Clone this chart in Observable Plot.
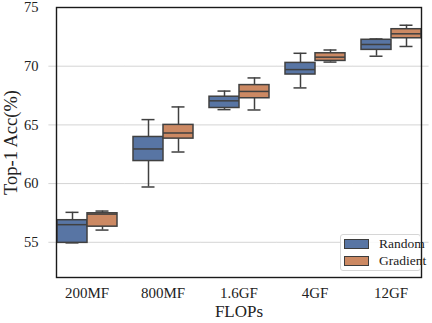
<!DOCTYPE html>
<html>
<head>
<meta charset="utf-8">
<script src="https://cdn.jsdelivr.net/npm/d3@7"></script>
<script src="https://cdn.jsdelivr.net/npm/@observablehq/plot@0.6"></script>
<style>
  html, body { margin: 0; padding: 0; background: #fff; }
  #wrap { position: relative; width: 432px; height: 323px; }
  #legend {
    position: absolute; left: 340px; top: 234px; width: 81px; height: 37px;
    background: rgba(255,255,255,0.85); border: 1px solid #d6d6d6; border-radius: 3px;
    box-sizing: border-box; font-family: "Liberation Serif", serif; font-size: 13.5px; color: #222;
  }
  .item { position: absolute; left: 3px; height: 12px; display: flex; align-items: center; }
  .sw { width: 23px; height: 8px; border: 1px solid #3d3d3d; margin-right: 10px; }
</style>
</head>
<body>
<div id="wrap"></div>
<script>
const categories = ["200MF", "800MF", "1.6GF", "4GF", "12GF"];
const series = ["Random", "Gradient"];
const colors = ["#5875a4", "#cc8963"];

const randomMin    = [54.95, 59.71, 66.30, 68.15, 70.85];
const randomQ1     = [54.95, 61.92, 66.44, 69.29, 71.39];
const randomMedian = [56.50, 62.95, 67.05, 69.71, 71.85];
const randomQ3     = [56.88, 63.97, 67.40, 70.28, 72.25];
const randomMax    = [57.55, 65.45, 67.88, 71.10, 72.32];

const gradientMin    = [56.04, 62.69, 66.27, 70.35, 71.68];
const gradientQ1     = [56.33, 63.83, 67.27, 70.45, 72.38];
const gradientMedian = [57.40, 64.31, 67.85, 70.77, 72.76];
const gradientQ3     = [57.47, 65.00, 68.39, 71.10, 73.15];
const gradientMax    = [57.66, 66.53, 69.00, 71.38, 73.49];

const yTicks = [55, 60, 65, 70, 75];
const gridValues = [55, 60, 65, 70];

const rows = categories.flatMap((c, i) => [
  {category: c, series: "Random", min: randomMin[i], q1: randomQ1[i], median: randomMedian[i], q3: randomQ3[i], max: randomMax[i]},
  {category: c, series: "Gradient", min: gradientMin[i], q1: gradientQ1[i], median: gradientMedian[i], q3: gradientQ3[i], max: gradientMax[i]}
]);

const edge = "#404040";
const gap = 7.62; // half of the space between facets

const chart = Plot.plot({
  width: 432, height: 323,
  marginTop: 7, marginRight: 3, marginBottom: 46, marginLeft: 48,
  style: {fontFamily: "Liberation Serif, serif", fontSize: "14px", color: "#222", background: "white"},
  fx: {domain: categories, paddingInner: 0.2, paddingOuter: 0.1, label: null, axis: null},
  x: {domain: series, padding: 0, axis: null},
  y: {domain: [52, 75]},
  color: {domain: series, range: colors},
  marks: [
    Plot.ruleY(gridValues, {stroke: "#d4d4d4", strokeWidth: 1, insetLeft: -gap, insetRight: -gap}),
    Plot.axisFx({domain: categories, anchor: "bottom", tickSize: 0, tickPadding: 10, fontSize: 15, label: "FLOPs", labelAnchor: "center", labelArrow: "none", labelOffset: 39}),
    Plot.axisY({ticks: yTicks, anchor: "left", tickSize: 0, tickPadding: 18, fontSize: 14.5, label: "Top-1 Acc(%)", labelAnchor: "center", labelArrow: "none", labelOffset: 53}),
    Plot.ruleX(rows, {fx: "category", x: "series", y1: "q3", y2: "max", stroke: edge, strokeWidth: 1.5}),
    Plot.ruleX(rows, {fx: "category", x: "series", y1: "min", y2: "q1", stroke: edge, strokeWidth: 1.5}),
    Plot.tickY(rows, {fx: "category", x: "series", y: "max", stroke: edge, strokeWidth: 1.5, insetLeft: 8.5, insetRight: 8.5}),
    Plot.tickY(rows, {fx: "category", x: "series", y: "min", stroke: edge, strokeWidth: 1.5, insetLeft: 8.5, insetRight: 8.5}),
    Plot.barY(rows, {fx: "category", x: "series", y1: "q1", y2: "q3", fill: "series", stroke: edge, strokeWidth: 1.5}),
    Plot.tickY(rows, {fx: "category", x: "series", y: "median", stroke: edge, strokeWidth: 1.5}),
    Plot.frame({stroke: "#1a1a1a", strokeWidth: 1.4, facet: "super"})
  ]
});

chart.querySelectorAll('g[aria-label="fx-axis label"] text').forEach(t => t.setAttribute("font-size", "17px"));
chart.querySelectorAll('g[aria-label="y-axis label"] text').forEach(t => t.setAttribute("font-size", "18.5px"));

const wrap = document.getElementById("wrap");
wrap.appendChild(chart);

const legend = document.createElement("div");
legend.id = "legend";
series.forEach((s, i) => {
  const item = document.createElement("div");
  item.className = "item";
  item.style.top = (3 + i * 17) + "px";
  const sw = document.createElement("div");
  sw.className = "sw";
  sw.style.background = colors[i];
  const label = document.createElement("span");
  label.textContent = s;
  item.appendChild(sw);
  item.appendChild(label);
  legend.appendChild(item);
});
wrap.appendChild(legend);
</script>
</body>
</html>
